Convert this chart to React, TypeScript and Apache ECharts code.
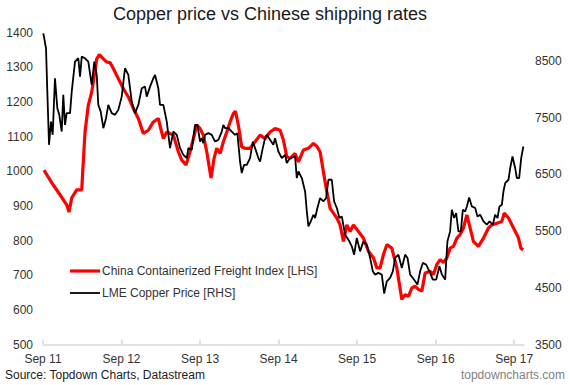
import React, { useEffect, useRef } from "react";
import * as echarts from "echarts";

// months since Sep 2011, China Containerized Freight Index (LHS)
const ccfiData: [number, number][] = [
  [0.15, 1003], [1.57, 960], [2.6, 932], [3.62, 903], [3.97, 882], [4.39, 923], [5.15, 946], [5.92, 946],
  [6.07, 998], [6.42, 1113], [6.92, 1190], [7.44, 1228], [7.84, 1276], [8.21, 1324], [8.61, 1336], [9.22, 1324],
  [9.74, 1315], [10.24, 1313], [10.75, 1296], [11.51, 1267], [12.27, 1238], [13.04, 1214], [13.8, 1181], [14.57, 1152],
  [15.33, 1109], [16.1, 1118], [16.86, 1142], [17.62, 1152], [17.99, 1123], [18.39, 1094], [18.91, 1113], [19.92, 1104],
  [20.68, 1056], [21.2, 1032], [21.86, 1018], [22.47, 1056], [22.98, 1094], [23.5, 1133], [24.0, 1123], [24.5, 1104],
  [25.02, 1056], [25.68, 980], [26.14, 1037], [26.55, 1066], [27.06, 1051], [27.56, 1085], [28.08, 1113], [28.59, 1142],
  [29.09, 1166], [29.4, 1173], [29.85, 1133], [30.37, 1070], [30.88, 1066], [31.64, 1066], [32.41, 1085], [33.17, 1104],
  [33.94, 1094], [34.7, 1113], [35.47, 1123], [36.23, 1118], [36.73, 1090], [37.25, 1042], [37.76, 1037], [38.52, 1051],
  [39.03, 1027], [39.79, 1061], [40.55, 1066], [41.32, 1080], [41.84, 1072], [42.34, 1056], [42.85, 998], [43.37, 941],
  [43.87, 893], [44.38, 879], [44.9, 865], [45.4, 845], [45.91, 797], [46.43, 845], [46.93, 826], [47.43, 845],
  [48.2, 826], [48.96, 807], [49.73, 769], [50.49, 750], [51.01, 721], [51.51, 721], [52.02, 759], [52.54, 788],
  [53.3, 778], [54.07, 721], [54.83, 630], [55.34, 644], [55.84, 639], [56.36, 663], [56.87, 668], [57.37, 659],
  [57.89, 654], [58.39, 706], [59.16, 711], [59.66, 702], [60.18, 731], [60.69, 745], [61.19, 736], [61.71, 750],
  [62.21, 778], [62.72, 783], [63.24, 807], [63.74, 817], [64.25, 836], [64.77, 874], [65.27, 836], [65.78, 797],
  [66.54, 783], [67.31, 807], [68.07, 836], [68.59, 845], [69.35, 850], [70.12, 855], [70.47, 879], [71.13, 865],
  [71.9, 836], [72.66, 807], [73.02, 778], [73.37, 773],
];

// months since Sep 2011, LME Copper Price (RHS)
const copperData: [number, number][] = [
  [0.05, 8986], [0.46, 8722], [0.66, 7958], [0.92, 7020], [1.22, 7430], [1.48, 7196], [1.83, 8194], [2.19, 7666],
  [2.49, 7548], [2.86, 7254], [3.1, 7900], [3.36, 7372], [3.62, 7578], [4.13, 7578], [4.39, 7958], [4.89, 8486],
  [5.4, 8546], [5.66, 8222], [5.92, 8574], [6.42, 8546], [6.92, 8486], [7.44, 8076], [7.84, 8486], [8.21, 8252],
  [8.45, 7724], [8.82, 7606], [9.22, 7314], [9.63, 7490], [9.98, 7724], [10.5, 7578], [11.01, 7548], [11.51, 7636],
  [12.03, 7870], [12.53, 8370], [13.04, 8252], [13.56, 7782], [14.06, 7578], [14.57, 7724], [15.09, 8018], [15.59, 8046],
  [15.85, 7870], [16.36, 8046], [16.86, 8194], [17.12, 8252], [17.62, 8018], [17.88, 7724], [18.39, 7724], [18.91, 7430],
  [19.41, 6962], [19.92, 7254], [20.44, 7196], [20.94, 6962], [21.45, 6844], [21.97, 6786], [22.21, 6962], [22.73, 6932],
  [23.23, 7372], [23.59, 7372], [24.0, 7078], [24.26, 7138], [24.5, 7050], [24.76, 7196], [25.27, 7226], [25.79, 7196],
  [26.29, 7078], [26.8, 7108], [27.32, 7254], [27.56, 7372], [27.82, 7314], [28.33, 7314], [28.85, 7254], [29.35, 7196],
  [29.7, 7226], [30.11, 6726], [30.37, 6522], [30.73, 6668], [31.14, 6668], [31.64, 6786], [32.06, 7078], [32.41, 6962],
  [32.91, 6786], [33.17, 6726], [33.58, 6962], [33.94, 7138], [34.2, 7196], [34.7, 7108], [35.2, 7020], [35.46, 7138],
  [35.97, 6902], [36.49, 6786], [36.99, 6844], [37.25, 6698], [37.76, 6786], [38.52, 6814], [38.78, 6434], [39.03, 6550],
  [39.55, 6434], [40.05, 6198], [40.31, 5846], [40.56, 5582], [40.92, 5670], [41.32, 5788], [41.58, 5730], [41.93, 5906],
  [42.34, 6082], [42.85, 6022], [43.26, 6082], [43.61, 6404], [44.13, 6404], [44.48, 6022], [44.9, 5906], [45.29, 5730],
  [45.66, 5758], [46.16, 5436], [46.67, 5348], [47.19, 5230], [47.54, 5084], [47.95, 5378], [48.46, 5142], [48.96, 5318],
  [49.48, 5260], [49.99, 5026], [50.4, 4790], [50.75, 4732], [51.25, 4762], [51.77, 4732], [52.13, 4400], [52.54, 4614],
  [53.04, 4674], [53.46, 4790], [53.81, 5026], [54.31, 5084], [54.83, 4850], [55.34, 5084], [55.7, 5026], [56.1, 4732],
  [56.51, 4674], [56.87, 4614], [57.22, 4556], [57.63, 4790], [58.04, 4938], [58.55, 4908], [59.05, 4790], [59.57, 4644],
  [60.08, 4644], [60.58, 4878], [60.95, 4732], [61.45, 4644], [61.8, 5318], [62.21, 5494], [62.47, 5876], [62.82, 5730],
  [63.13, 5818], [63.48, 5494], [63.85, 5494], [64.15, 5876], [64.51, 5846], [64.77, 5934], [65.12, 6093], [65.53, 5934],
  [66.04, 5906], [66.39, 5758], [66.8, 5788], [67.31, 5670], [67.82, 5612], [68.22, 5670], [68.74, 5612], [69.09, 5788],
  [69.45, 5730], [69.75, 5934], [70.12, 5964], [70.36, 6198], [70.62, 6346], [71.13, 6404], [71.39, 6610], [71.74, 6814],
  [72.15, 6610], [72.41, 6434], [72.76, 6434], [73.07, 6786], [73.4, 6990],
];

const xTickMonths = [0, 12, 24, 36, 48, 60, 72];
const xTickLabels = ["Sep 11", "Sep 12", "Sep 13", "Sep 14", "Sep 15", "Sep 16", "Sep 17"];
const rightTickValues = [3500, 4500, 5500, 6500, 7500, 8500];
const seriesNames = ["China Containerized Freight Index [LHS]", "LME Copper Price [RHS]"];

const FONT = "'Liberation Sans', Arial, sans-serif";
const RED = "#ff0000";
const BLACK = "#000000";

export default function App() {
  const ref = useRef<HTMLDivElement>(null);
  useEffect(() => {
    if (!ref.current) return;
    const chart = echarts.init(ref.current, undefined, { renderer: "svg" });
    const legendItem = (i: number, y: number, color: string, width: number) => [
      {
        type: "line",
        shape: { x1: 70, y1: y, x2: 100, y2: y },
        style: { stroke: color, lineWidth: width },
      },
      {
        type: "text",
        x: 102,
        y,
        style: {
          text: seriesNames[i],
          fontSize: 12,
          fontFamily: FONT,
          fill: "#333",
          align: "left",
          verticalAlign: "middle",
        },
      },
    ];
    chart.setOption({
      animation: false,
      textStyle: { fontFamily: FONT },
      grid: { left: 43, right: 46, top: 32.5, bottom: 40.5, containLabel: false },
      xAxis: {
        type: "value",
        min: 0,
        max: 73.5,
        axisLine: { show: true, lineStyle: { color: "#d9d9d9", width: 1.5 } },
        axisTick: {
          show: true,
          inside: true,
          length: 5,
          customValues: xTickMonths,
          lineStyle: { color: "#d9d9d9", width: 1.5 },
        },
        splitLine: { show: false },
        axisLabel: {
          customValues: xTickMonths,
          fontSize: 12,
          color: "#333",
          margin: 8,
          formatter: (v: number) => {
            const i = xTickMonths.indexOf(Math.round(v));
            return i >= 0 ? xTickLabels[i] : "";
          },
        },
      },
      yAxis: [
        {
          type: "value",
          min: 500,
          max: 1400,
          interval: 100,
          axisLine: { show: false },
          axisTick: { show: false },
          splitLine: { show: false },
          axisLabel: { fontSize: 12, color: "#333", margin: 10, formatter: (v: number) => String(v) },
        },
        {
          type: "value",
          position: "right",
          min: 3500,
          max: 9000,
          axisLine: { show: false },
          axisTick: { show: false },
          splitLine: { show: false },
          axisLabel: {
            fontSize: 12,
            color: "#333",
            margin: 11,
            customValues: rightTickValues,
            formatter: (v: number) => String(v),
          },
        },
      ],
      series: [
        {
          name: seriesNames[0],
          type: "line",
          yAxisIndex: 0,
          data: ccfiData,
          showSymbol: false,
          symbol: "none",
          lineStyle: { color: RED, width: 3.2 },
          itemStyle: { color: RED },
          z: 2,
        },
        {
          name: seriesNames[1],
          type: "line",
          yAxisIndex: 1,
          data: copperData,
          showSymbol: false,
          symbol: "none",
          lineStyle: { color: BLACK, width: 1.8 },
          itemStyle: { color: BLACK },
          z: 3,
        },
      ],
      graphic: [
        {
          type: "text",
          x: 270,
          y: 14,
          style: {
            text: "Copper price vs Chinese shipping rates",
            fontSize: 18,
            fontFamily: FONT,
            fill: "#1a1a1a",
            align: "center",
            verticalAlign: "middle",
          },
        },
        ...legendItem(0, 271, RED, 3.2),
        ...legendItem(1, 293, BLACK, 1.8),
        {
          type: "text",
          x: 5,
          y: 375,
          style: {
            text: "Source: Topdown Charts, Datastream",
            fontSize: 12,
            fontFamily: FONT,
            fill: "#222",
            align: "left",
            verticalAlign: "middle",
          },
        },
        {
          type: "text",
          x: 565,
          y: 375,
          style: {
            text: "topdowncharts.com",
            fontSize: 12,
            fontFamily: FONT,
            fill: "#7f7f7f",
            align: "right",
            verticalAlign: "middle",
          },
        },
      ],
    });
    return () => chart.dispose();
  }, []);
  return (
    <div
      ref={ref}
      style={{ position: "fixed", left: 0, top: 0, width: 570, height: 385, background: "#fff" }}
    />
  );
}
